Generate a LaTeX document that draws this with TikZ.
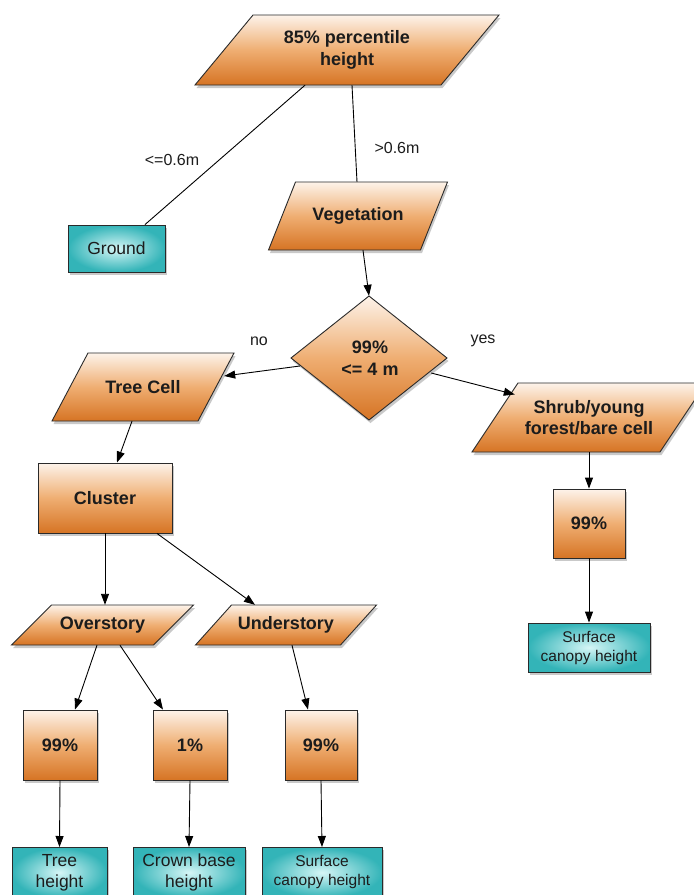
\documentclass[tikz,border=0pt]{standalone}
\usepackage{fontspec}
\setmainfont{Liberation Sans}
\usetikzlibrary{calc,shadows,arrows.meta}

\definecolor{orTop}{HTML}{FDF3EA}
\definecolor{orMid}{HTML}{EFAE72}
\definecolor{orBot}{HTML}{D67424}
\definecolor{tlOut}{HTML}{33B4B8}
\definecolor{tlIn}{HTML}{D6F6F6}
\definecolor{edgeC}{HTML}{2A2A2A}
\definecolor{txtC}{HTML}{1C1C1C}

\tikzset{
  shadowed/.style={drop shadow={opacity=0.35,shadow xshift=1.5pt,shadow yshift=-3pt,fill=black!60}},
  orangefill/.style={draw=edgeC,line width=0.9pt,top color=orTop,bottom color=orBot,middle color=orMid,shadowed},
  tealfill/.style={draw=edgeC,line width=0.9pt,inner color=tlIn,outer color=tlOut,shadowed},
  ptext/.style={draw=none,fill=none,align=center,font=\bfseries\fontsize{18}{21.5}\selectfont,text=txtC,inner sep=0pt},
  obox/.style={orangefill,rectangle,align=center,font=\bfseries\fontsize{18}{21.5}\selectfont,text=txtC,inner sep=0pt},
  tbox/.style={tealfill,rectangle,align=center,font=\fontsize{17.5}{21}\selectfont,text=txtC,inner sep=0pt},
  tsmall/.style={font=\fontsize{15.5}{19}\selectfont},
  lbl/.style={font=\fontsize{16}{18}\selectfont,text=txtC,inner sep=0pt},
  link/.style={draw=black,line width=0.9pt},
  arr/.style={link,-{Triangle[length=11pt,width=8pt]}},
}

% parallelogram: name, centre x, centre y, mid width, height, skew, text
\newcommand\pgram[7]{%
  \path[orangefill] (#2-#4/2-#6/2,#3+#5/2) -- (#2+#4/2-#6/2,#3+#5/2)
    -- (#2+#4/2+#6/2,#3-#5/2) -- (#2-#4/2+#6/2,#3-#5/2) -- cycle;
  \node[ptext,minimum width=#4pt,minimum height=#5pt] (#1) at (#2,#3) {#7};
}

\begin{document}
\begin{tikzpicture}[x=1pt,y=-1pt]
\useasboundingbox[fill=white] (0,0) rectangle (694,895);

% parallelogram stages
\pgram{top}{347}{50}{246}{70}{58}{85\% percentile\\height}
\pgram{veg}{358}{216}{152}{68}{27}{Vegetation}
\pgram{tc}{143}{387}{146}{68}{36}{Tree Cell}
\pgram{shrub}{589}{417.5}{188}{69}{46}{Shrub/young\\forest/bare cell}
\pgram{ov}{102.5}{625}{142}{40}{40}{Overstory}
\pgram{un}{286}{625}{145}{40}{36}{Understory}

% decision diamond
\path[orangefill] (369,296) -- (447,358) -- (369,420) -- (291,358) -- cycle;
\node[ptext,minimum width=156pt,minimum height=124pt] (dec) at (370,358) {99\%\\<= 4 m};

% rectangles
\node[obox,minimum width=134pt,minimum height=70pt] (cl) at (105,498) {Cluster};
\node[obox,minimum width=72pt,minimum height=69pt] (pr) at (589,523.5) {99\%};
\node[obox,minimum width=74pt,minimum height=70pt] (b1) at (60,745) {99\%};
\node[obox,minimum width=74pt,minimum height=70pt] (b2) at (190,745) {1\%};
\node[obox,minimum width=72pt,minimum height=70pt] (b3) at (321,745) {99\%};

% result boxes
\node[tbox,minimum width=97pt,minimum height=47pt] (gr) at (116.5,248.5) {Ground};
\node[tbox,tsmall,minimum width=122pt,minimum height=49pt] (sr) at (589,647.5) {Surface\\canopy height};
\node[tbox,minimum width=95pt,minimum height=50pt,anchor=north] (th) at (59.5,847) {Tree\\height};
\node[tbox,minimum width=112pt,minimum height=50pt,anchor=north] (cb) at (189,847) {Crown base\\height};
\node[tbox,tsmall,minimum width=120pt,minimum height=50pt,anchor=north] (sc) at (322,847) {Surface\\canopy height};

% connectors
\draw[link] ($(top.south)+(-42,0)$) -- ($(gr.north)+(28.5,0)$);
\draw[link] ($(top.south)+(5,0)$) -- ($(veg.north)+(-1,0)$);
\node[lbl] (lo) at (172,160) {<=0.6m};
\node[lbl] (hi) at (397,148) {>0.6m};

\draw[arr] ($(veg.south)+(5,0)$) -- ($(dec.north)+(-1,0)$);
\draw[arr] ($(dec.west)+(8,8)$) -- ($(tc.east)+(8,-11)$);
\draw[arr] ($(dec.east)+(-17,15)$) -- ($(shrub.west)+(20,-23)$);
\node[lbl] (no) at (259,341) {no};
\node[lbl] (yes) at (483,341) {yes};

\draw[arr] ($(tc.south)+(-11,0)$) -- ($(cl.north)+(12,0)$);
\draw[arr] (cl.south) -- ($(ov.north)+(2.5,0)$);
\draw[arr] ($(cl.south)+(52,0)$) -- ($(un.north)+(-31,0)$);
\draw[arr] ($(ov.south)+(-5.5,0)$) -- ($(b1.north)+(15,0)$);
\draw[arr] ($(ov.south)+(17.5,0)$) -- ($(b2.north)+(-27,0)$);
\draw[arr] ($(un.south)+(6,0)$) -- ($(b3.north)+(-13,0)$);
\draw[arr] (b1.south) -- (th.north);
\draw[arr] (b2.south) -- (cb.north);
\draw[arr] (b3.south) -- (sc.north);
\draw[arr] (shrub.south) -- (pr.north);
\draw[arr] (pr.south) -- (sr.north);
\end{tikzpicture}
\end{document}
